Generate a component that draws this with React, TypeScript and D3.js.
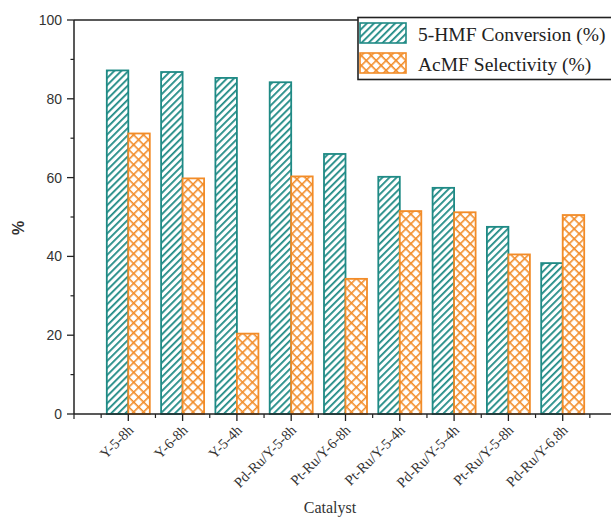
import React from "react";
import * as d3 from "d3";

const categories = ["Y-5-8h", "Y-6-8h", "Y-5-4h", "Pd-Ru/Y-5-8h", "Pt-Ru/Y-6-8h", "Pt-Ru/Y-5-4h", "Pd-Ru/Y-5-4h", "Pt-Ru/Y-5-8h", "Pd-Ru/Y-6.8h"];
const conversion = [87.2, 86.8, 85.3, 84.2, 66.0, 60.2, 57.4, 47.5, 38.3];
const selectivity = [71.2, 59.8, 20.4, 60.3, 34.3, 51.5, 51.2, 40.5, 50.5];
const yTicks = [0, 20, 40, 60, 80, 100];
const yMinor = [10, 30, 50, 70, 90];
const seriesNames = ["5-HMF Conversion (%)", "AcMF Selectivity (%)"];

const TEAL = "#1f8a85";
const ORANGE = "#f28c28";

export default function App() {
  const W = 611, H = 517;
  const x = d3.scaleLinear().domain([0, 10]).range([74, 617]);
  const y = d3.scaleLinear().domain([0, 100]).range([414, 20]);
  const bw = 21.5;
  const minorX = d3.range(0, 10).map((i) => i + 0.5);
  return (
    <svg width={W} height={H} style={{ position: "absolute", left: 0, top: 0, background: "#fff" }}>
      <defs>
        <pattern id="stripe" patternUnits="userSpaceOnUse" width="5" height="5" patternTransform="rotate(45)">
          <rect width="5" height="5" fill="#fff" />
          <line x1="0" y1="0" x2="0" y2="5" stroke={TEAL} strokeWidth="3.6" />
        </pattern>
        <pattern id="cross" patternUnits="userSpaceOnUse" width="7" height="7" patternTransform="rotate(45)">
          <rect width="7" height="7" fill="#fff" />
          <line x1="0" y1="0" x2="0" y2="7" stroke={ORANGE} strokeWidth="3.2" />
          <line x1="0" y1="0" x2="7" y2="0" stroke={ORANGE} strokeWidth="3.2" />
        </pattern>
      </defs>
      {/* bars */}
      {categories.map((c, i) => {
        const cx = x(i + 1);
        return (
          <g key={c}>
            <rect x={cx - bw} y={y(conversion[i])} width={bw} height={y(0) - y(conversion[i])} fill="url(#stripe)" stroke={TEAL} strokeWidth={1.8} />
            <rect x={cx} y={y(selectivity[i])} width={bw} height={y(0) - y(selectivity[i])} fill="url(#cross)" stroke={ORANGE} strokeWidth={1.8} />
          </g>
        );
      })}
      {/* axes */}
      <line x1={x(0)} y1={y(0)} x2={W} y2={y(0)} stroke="#222" strokeWidth={1.5} />
      <line x1={x(0)} y1={y(0)} x2={x(0)} y2={y(100)} stroke="#222" strokeWidth={1.5} />
      <line x1={x(0)} y1={y(100)} x2={360} y2={y(100)} stroke="#222" strokeWidth={1.5} />
      {yTicks.map((t) => (
        <g key={t}>
          <line x1={x(0) - 7} x2={x(0)} y1={y(t)} y2={y(t)} stroke="#222" strokeWidth={1.3} />
          <text x={x(0) - 12} y={y(t)} dy="0.35em" textAnchor="end" fontFamily="Liberation Sans, Arial, sans-serif" fontSize={14} fill="#333">{t}</text>
        </g>
      ))}
      {yMinor.map((t) => (
        <line key={t} x1={x(0) - 3.5} x2={x(0)} y1={y(t)} y2={y(t)} stroke="#222" strokeWidth={1.2} />
      ))}
      {categories.map((c, i) => (
        <g key={c}>
          <line x1={x(i + 1)} x2={x(i + 1)} y1={y(0)} y2={y(0) + 7} stroke="#222" strokeWidth={1.3} />
          <text transform={`translate(${x(i + 1) + 6},${y(0) + 17}) rotate(-45)`} textAnchor="end" fontFamily="Liberation Serif, Times New Roman, serif" fontSize={14.5} fill="#333">{c}</text>
        </g>
      ))}
      {minorX.map((t) => (
        <line key={t} x1={x(t)} x2={x(t)} y1={y(0)} y2={y(0) + 4} stroke="#222" strokeWidth={1.2} />
      ))}
      <line x1={x(0)} x2={x(0)} y1={y(0)} y2={y(0) + 5} stroke="#222" strokeWidth={1.2} />
      <text x={330} y={513} textAnchor="middle" fontFamily="Liberation Serif, Times New Roman, serif" fontSize={16} fill="#333">Catalyst</text>
      <text transform={`translate(24,228) rotate(-90)`} textAnchor="middle" fontFamily="Liberation Sans, Arial, sans-serif" fontWeight="bold" fontSize={16} fill="#333">%</text>
      {/* legend */}
      <rect x={358} y={17.5} width={270} height={62} fill="#fff" stroke="#222" strokeWidth={1.6} />
      <rect x={360} y={23} width={46} height={20} fill="url(#stripe)" stroke={TEAL} strokeWidth={1.6} />
      <rect x={360} y={53} width={46} height={20} fill="url(#cross)" stroke={ORANGE} strokeWidth={1.6} />
      <text x={418} y={41} fontFamily="Liberation Serif, Times New Roman, serif" fontSize={19.5} fill="#222">{seriesNames[0]}</text>
      <text x={418} y={71} fontFamily="Liberation Serif, Times New Roman, serif" fontSize={19.5} fill="#222">{seriesNames[1]}</text>
    </svg>
  );
}
